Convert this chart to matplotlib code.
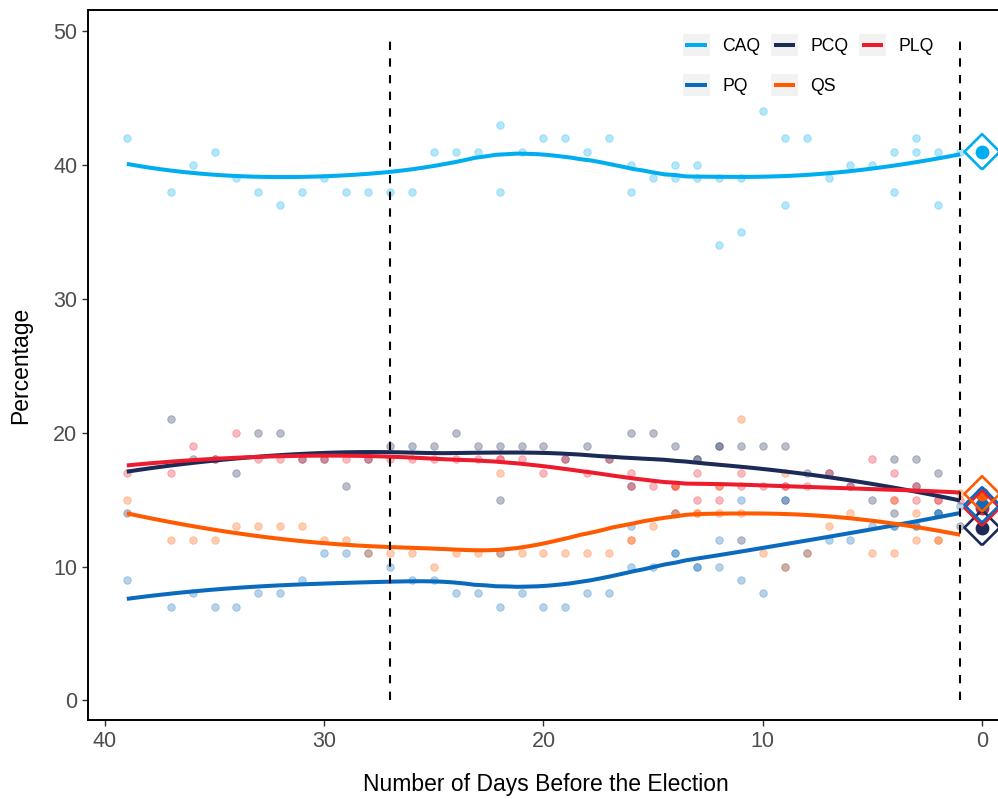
import numpy as np
import matplotlib
matplotlib.use("Agg")
import matplotlib.pyplot as plt
from matplotlib.lines import Line2D
from matplotlib.patches import Rectangle
from matplotlib.legend_handler import HandlerBase

plt.rcParams['font.family'] = ['Liberation Sans', 'DejaVu Sans']

# --- poll data (days before election, percentage) ---
poll_days = [39, 37, 36, 35, 34, 33, 32, 31, 30, 29, 28, 27, 26, 25, 24, 23, 22, 22, 21, 20,
             19, 18, 17, 16, 16, 15, 14, 14, 13, 13, 12, 12, 11, 11, 10, 9, 9, 8, 7, 6,
             5, 4, 4, 3, 3, 2, 2, 1]

caq_vals = [42, 38, 40, 41, 39, 38, 37, 38, 39, 38, 38, 38, 38, 41, 41, 41, 43, 38, 41, 42,
            42, 41, 42, 40, 38, 39, 40, 39, 40, 39, 39, 34, 39, 35, 44, 42, 37, 42, 39, 40,
            40, 41, 38, 42, 41, 41, 37, 41]
pcq_vals = [14, 21, 18, 18, 17, 20, 20, 18, 18, 16, 18, 19, 19, 19, 20, 19, 19, 15, 19, 19,
            18, 19, 18, 20, 16, 20, 19, 14, 18, 18, 19, 19, 19, 12, 19, 19, 15, 17, 17, 16,
            15, 18, 14, 18, 16, 17, 14, 13]
plq_vals = [17, 17, 19, 18, 20, 18, 18, 18, 18, 18, 18, 18, 18, 18, 18, 18, 18, 18, 18, 17,
            18, 17, 18, 17, 16, 16, 16, 16, 17, 15, 16, 15, 17, 16, 16, 16, 16, 16, 17, 16,
            18, 17, 15, 16, 15, 15, 15, 15]
pq_vals = [9, 7, 8, 7, 7, 8, 8, 9, 11, 11, 11, 10, 9, 9, 8, 8, 7, 11, 8, 7,
           7, 8, 8, 13, 10, 10, 11, 11, 10, 10, 12, 10, 15, 9, 8, 15, 10, 11, 12, 12,
           13, 13, 13, 13, 13, 14, 14, 14.5]
qs_vals = [15, 12, 12, 12, 13, 13, 13, 13, 12, 12, 11, 11, 11, 10, 11, 11, 17, 11, 11, 11,
           11, 11, 11, 12, 12, 13, 16, 14, 14, 14, 14, 16, 21, 14, 11, 17, 10, 11, 13, 14,
           11, 11, 15, 14, 12, 12, 12, 15.5]

parties = ['CAQ', 'PCQ', 'PLQ', 'PQ', 'QS']
party_vals = [caq_vals, pcq_vals, plq_vals, pq_vals, qs_vals]
party_colors = ['#00AEEF', '#1B2A56', '#ED1B2E', '#0A6BBE', '#FF5A00']

# official result on election day
result_vals = [40.98, 12.91, 14.37, 14.61, 15.43]

event_days = [27, 1]


def loess(x, y, grid, span=0.75):
    # local quadratic fit with tricube weights (like R's loess)
    x = np.asarray(x, float)
    y = np.asarray(y, float)
    q = int(np.floor(len(x) * span))
    fit = []
    for g in grid:
        d = np.abs(x - g)
        h = np.sort(d)[q - 1]
        w = np.clip(1 - (d / h) ** 3, 0, None) ** 3
        X = np.vstack([np.ones_like(x), x - g, (x - g) ** 2]).T
        sw = np.sqrt(w)
        beta = np.linalg.lstsq(X * sw[:, None], y * sw, rcond=None)[0]
        fit.append(beta[0])
    return np.array(fit)


class KeyHandler(HandlerBase):
    def create_artists(self, legend, orig_handle, xdescent, ydescent,
                       width, height, fontsize, trans):
        bg = Rectangle((-xdescent, -ydescent), width, height,
                       facecolor='#F2F2F2', edgecolor='none', transform=trans)
        pad = width * 0.1
        yc = -ydescent + height / 2
        ln = Line2D([-xdescent + pad, -xdescent + width - pad], [yc, yc],
                    color=orig_handle.get_color(), lw=orig_handle.get_linewidth(),
                    solid_capstyle='butt', transform=trans)
        return [bg, ln]


fig = plt.figure(figsize=(9.98, 7.99), dpi=100)
ax = fig.add_axes([88 / 998, 1 - 720 / 799, (1004 - 88) / 998, (720 - 10) / 799])

grid = np.linspace(min(poll_days), max(poll_days), 80)

for vals, col in zip(party_vals, party_colors):
    ax.scatter(poll_days, vals, s=30, color=col, alpha=0.3, linewidths=0.6,
               edgecolors=col, zorder=2)

handles = []
for name, vals, col in zip(parties, party_vals, party_colors):
    ln, = ax.plot(grid, loess(poll_days, vals, grid), color=col, lw=2.9,
                  solid_capstyle='butt', zorder=3, label=name)
    handles.append(ln)

for d in event_days:
    ax.vlines(d, 0, 49.5, colors='black', lw=1.5, linestyles=(0, (4, 4)), zorder=4)

for val, col in zip(result_vals, party_colors):
    ax.scatter([0], [val], s=80, color=col, zorder=5)
for val, col in zip(result_vals, party_colors):
    ax.scatter([0], [val], s=18 ** 2, marker='D', facecolors='none',
               edgecolors=col, linewidths=1.9, zorder=6, clip_on=False)

ax.set_xlim(40.77, -1.0)
ax.set_ylim(-1.46, 51.57)
ax.set_xticks([40, 30, 20, 10, 0])
ax.set_yticks([0, 10, 20, 30, 40, 50])
ax.tick_params(labelsize=15.5, labelcolor='#4D4D4D', length=4.3, width=1,
               color='#333333', pad=3.5)
for sp in ax.spines.values():
    sp.set_linewidth(1.4)
    sp.set_color('black')

ax.set_xlabel('Number of Days Before the Election', fontsize=16.5, labelpad=15)
ax.set_ylabel('Percentage', fontsize=16.5, labelpad=15)

# legend: CAQ PCQ PLQ / PQ QS, filled row-wise
order = [0, 3, 1, 4, 2]
leg = ax.legend([handles[i] for i in order], [parties[i] for i in order],
                handler_map={Line2D: KeyHandler()}, ncol=3, frameon=False,
                fontsize=12.7, handlelength=1.52, handleheight=1.52,
                handletextpad=0.72, columnspacing=0.6, labelspacing=1.0,
                borderpad=0, borderaxespad=0, loc='upper left',
                bbox_to_anchor=(682.7 / 998, 1 - 34.5 / 799),
                bbox_transform=fig.transFigure)

fig.savefig('out.png', dpi=100)
